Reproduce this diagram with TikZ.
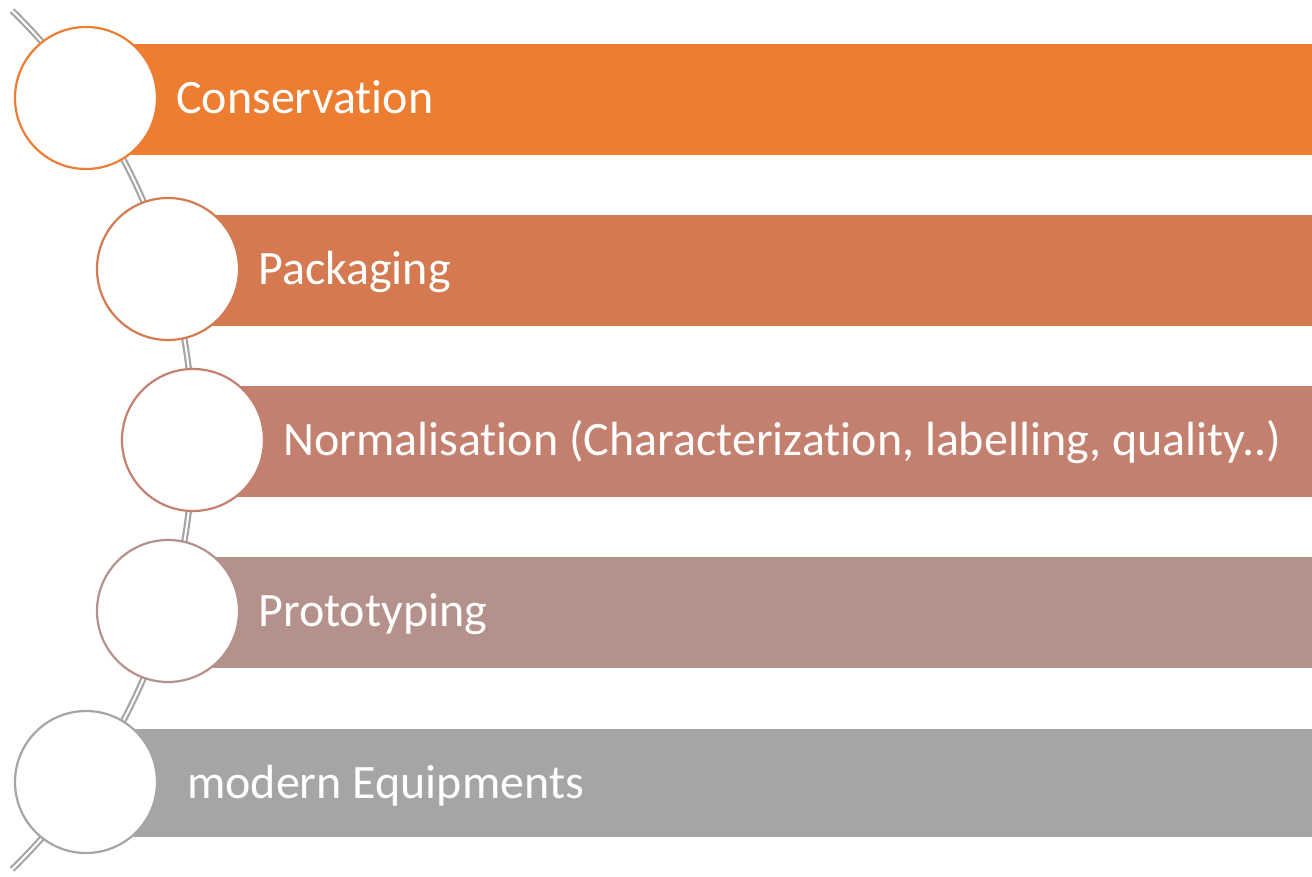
\documentclass[tikz,border=0pt]{standalone}
\usepackage{fontspec}
\setmainfont{Carlito}[Ligatures={NoCommon}]
\usetikzlibrary{shapes.geometric, arrows, positioning}

\definecolor{stepA}{HTML}{ED7D31}
\definecolor{stepB}{HTML}{D57A50}
\definecolor{stepC}{HTML}{C4806F}
\definecolor{stepD}{HTML}{B4918A}
\definecolor{stepE}{HTML}{A5A5A5}

\begin{document}
\begin{tikzpicture}[x=1pt, y=1pt]
\tikzstyle{bead} = [circle, minimum size=142pt, inner sep=0pt, line width=2.2pt, fill=white]
\tikzstyle{caption} = [anchor=base west, inner sep=0pt, text=white, font=\fontsize{48}{56}\selectfont]
\tikzstyle{rail} = [draw=stepE, line width=2.2pt, double=white, double distance=2pt]

\useasboundingbox (0,0) rectangle (1312,876);

% centres on the rail
\coordinate (p1) at (86,778);
\coordinate (p2) at (168,607);
\coordinate (p3) at (193,436);
\coordinate (p4) at (168,265);
\coordinate (p5) at (86,94);
\coordinate (hub) at (-407,436);

% the rail
\coordinate (railtop) at ([shift={(hub)}]45.7:600);
\path [rail] (railtop) arc [start angle=45.7, end angle=-45.7, radius=600];

% bars
\fill [stepA] ([yshift=-57]p1) rectangle (1312,832);
\fill [stepB] ([yshift=-57]p2) rectangle (1312,661);
\fill [stepC] ([yshift=-57]p3) rectangle (1312,490);
\fill [stepD] ([yshift=-57]p4) rectangle (1312,319);
\fill [stepE] ([yshift=-55]p5) rectangle (1312,147);

% beads
\node (c1) [bead, draw=stepA] at (p1) {};
\node (c2) [bead, draw=stepB] at (p2) {};
\node (c3) [bead, draw=stepC] at (p3) {};
\node (c4) [bead, draw=stepD] at (p4) {};
\node (c5) [bead, draw=stepE] at (p5) {};

% labels
\node (t1) [caption] at (176,762) {Conservation};
\node (t2) [caption] at (258,591) {Packaging};
\node (t3) [caption] at (283,420) {Normalisation (Characterization, labelling, quality..)};
\node (t4) [caption] at (258,249) {Prototyping};
\node (t5) [caption] at (187,78) {modern Equipments};

\end{tikzpicture}
\end{document}
